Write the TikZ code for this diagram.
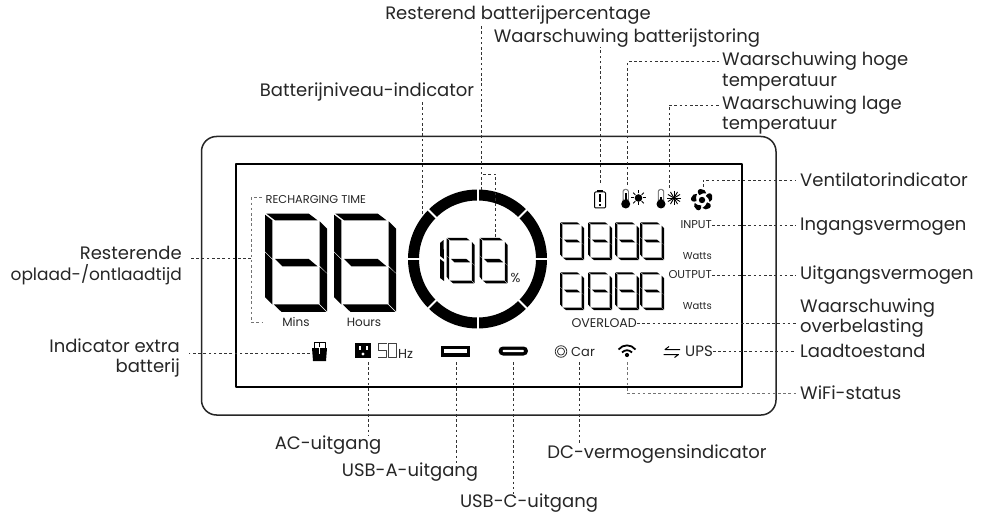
\documentclass[tikz,border=0pt]{standalone}
\usepackage{fontspec}
\setmainfont{Poppins}
\providecommand{\lcdInkColor}{black}
\providecommand{\lcdTextColor}{black!85}
\providecommand{\lcdLeaderColor}{black!80}
\providecommand{\lcdBracketColor}{black!55}
% one seven segment digit: x, y, width, height, stroke thickness (drawing units 184 x 297)
\newcommand{\lcdDigit}[5]{%
  \begin{scope}[shift={(#1,#2)}, x=#3pt/184, y=-#4pt/297]
    \fill[\lcdInkColor] (4,2) -- (130,2) -- (134+#5,#5) -- (8+#5,#5) -- cycle;
    \fill[\lcdInkColor] (0,5) -- (#5,#5) -- (#5,115+#5) -- (0,115) -- cycle;
    \fill[\lcdInkColor] (184-#5,47-#5) -- (184,47) -- (184,180) -- (184-#5,180-#5) -- cycle;
    \fill[\lcdInkColor] (30,138) -- (130,138) -- (156,160) -- (52,160) -- cycle;
    \fill[\lcdInkColor] (0,118) -- (#5,118+#5) -- (#5,275) -- (0,252) -- cycle;
    \fill[\lcdInkColor] (184-#5,184-#5) -- (184,182) -- (184,295) -- (184-#5,295-#5) -- cycle;
    \fill[\lcdInkColor] (4+#5,296-#5) -- (181-#5,296-#5) -- (182,297) -- (27+#5,297) -- cycle;
  \end{scope}}
\tikzset{
  leader/.style={draw=\lcdLeaderColor, line width=0.8pt, dash pattern=on 2.6pt off 2.6pt},
  bracket/.style={draw=\lcdBracketColor, line width=1pt, dash pattern=on 2.6pt off 2.6pt},
  callout/.style={inner sep=0pt, text=\lcdTextColor, font=\fontsize{18}{20.5}\selectfont},
  lcdtext/.style={inner sep=0pt, text=\lcdTextColor, font=\fontsize{11.4}{13}\selectfont},
  lcdtextbig/.style={inner sep=0pt, text=\lcdTextColor, font=\fontsize{13}{15}\selectfont},
}
\begin{document}
\begin{tikzpicture}
\begin{scope}[x=1pt, y=-1pt, line join=round]
  \useasboundingbox[fill=white] (0,0) rectangle (982,513);
  % Housing and screen
  \draw[line width=1.5pt, draw=black!85, rounded corners=15pt] (201.5,136.5) rectangle (776,415);
  \draw[line width=2pt, draw=\lcdInkColor] (236,164) rectangle (742,387);
  % Time digits
  \lcdDigit{265}{213}{62}{99}{22}
  \lcdDigit{334}{213}{62}{99}{22}
  % Battery ring
  \coordinate (ringCentre) at (477.5,259);
  \draw[line width=11pt, draw=\lcdInkColor] (ringCentre) circle (64pt);
  \foreach \a in {0,45,...,315}
    \draw[line width=2pt, draw=white] (ringCentre) ++(\a:57) -- ++(\a:14);
  % Percentage digits
  \fill[\lcdInkColor] (440,243) -- (443.5,240) -- (444,259) -- (440,256) -- cycle;
  \fill[\lcdInkColor] (440,259) -- (444,262) -- (444,281) -- (440,278) -- cycle;
  \lcdDigit{446.5}{237.5}{28}{46}{18}
  \lcdDigit{479.5}{237.5}{28}{46}{18}
  % Power digits
  \lcdDigit{560}{222}{24}{38}{18}
  \lcdDigit{588}{222}{24}{38}{18}
  \lcdDigit{615}{222}{24}{38}{18}
  \lcdDigit{640}{222}{24}{38}{18}
  \lcdDigit{560}{272}{24}{38}{18}
  \lcdDigit{588}{272}{24}{38}{18}
  \lcdDigit{615}{272}{24}{38}{18}
  \lcdDigit{640}{272}{24}{38}{18}
  % Battery warning icon
  \draw[line width=1pt, rounded corners=1pt] (594.5,192) rectangle (605.5,208);
  \fill[\lcdInkColor] (597,190) rectangle (603,192);
  \fill[\lcdInkColor] (598.6,194.5) rectangle (601.4,202.5);
  \fill[\lcdInkColor] (598.6,204) rectangle (601.4,206.2);
  % Thermometer with sun
  \fill[black!55, rounded corners=2.5pt] (622.5,203) rectangle (628.9,189);
  \fill[white, rounded corners=1.5pt] (623.5,200) rectangle (627.9,190);
  \fill[\lcdInkColor] (625.7,204) circle (4.5pt);
  \fill[\lcdInkColor] (624.6,193) rectangle (626.8,202);
  \fill[\lcdInkColor] (638.5,198) circle (3.8pt);
  \foreach \a in {0,45,...,315}
    \draw[line width=1pt] (638.5,198) ++(\a:4.5) -- ++(\a:3);
  % Thermometer with snow
  \fill[black!55, rounded corners=2.5pt] (657.8,203) rectangle (664.2,189);
  \fill[white, rounded corners=1.5pt] (658.8,200) rectangle (663.2,190);
  \fill[\lcdInkColor] (661,204) circle (4.5pt);
  \fill[\lcdInkColor] (660,197) rectangle (662,202);
  \foreach \a in {0,30,...,150}
    \draw[line width=0.9pt] (674,198) ++(\a:-7) -- ++(\a:14);
  % Fan icon
  \fill[\lcdInkColor] (702,200) circle (3.2pt);
  \foreach \a in {20,92,...,308}
    \fill[\lcdInkColor, shift={(702,200)}, rotate=\a] (5,-2.5) .. controls (8,-5) and (11,-4) .. (11,-1) .. controls (11,2) and (9,4.5) .. (6.5,4.5) .. controls (7.5,2) and (6,0) .. (5,-2.5) -- cycle;
  % Extra battery icon
  \draw[line width=1pt] (314,350) -- (314,342) -- (325,342) -- (325,350);
  \fill[\lcdInkColor] (312,348) -- (327,348) -- (326,361) -- (313,361) -- cycle;
  \draw[line width=1pt, draw=white] (319.7,347) -- (319.7,354);
  \draw[line width=1pt] (319.7,342) -- (319.7,347);
  % Socket icon
  \fill[\lcdInkColor] (355,343) rectangle (371,358);
  \fill[white] (358.5,346) rectangle (360.5,350);
  \fill[white] (365.5,346) rectangle (367.5,350);
  \fill[white] (363,354) circle (1.7pt);
  % Frequency digits
  \draw[line width=1pt, draw=black!75] (387,343.5) -- (378,343.5) -- (378,350) -- (386.5,350) -- (386.5,357.5) -- (377.5,357.5);
  \draw[line width=1pt, draw=black!75] (388.5,343.5) rectangle (396.5,357.5);
  \node[lcdtext, anchor=base west, font=\fontsize{13}{15}\selectfont] (lblHz) at (398,358) {Hz};
  % USB icons
  \fill[\lcdInkColor] (441,345.5) rectangle (469.5,356.5);
  \fill[white] (444,349) rectangle (466.5,352.5);
  \fill[\lcdInkColor, rounded corners=4.4pt] (498.5,346.5) rectangle (528,355.5);
  \fill[white, rounded corners=1pt] (502.5,349.8) rectangle (524,352.2);
  % Car icon
  \draw[line width=0.8pt, draw=black!80] (561,351.5) circle (5.8pt);
  \draw[line width=0.8pt, draw=black!80] (561,351.5) circle (3.6pt);
  % WiFi icon
  \fill[\lcdInkColor] (627,355) circle (2.1pt);
  \draw[line width=1.8pt] (622,352.5) .. controls (625,349.5) and (629,349.5) .. (632,352.5);
  \draw[line width=1.8pt] (618.5,349.5) .. controls (623,344) and (631,344) .. (635.5,349.5);
  % UPS arrows
  \draw[line width=1pt] (680,349.5) -- (665,349.5) -- (669,346.5);
  \draw[line width=1pt] (663.5,354.5) -- (678.5,354.5) -- (674.5,357.5);
  % Screen labels
  \node[lcdtext, anchor=west] (lblRecharge) at (265.5,200) {RECHARGING TIME};
  \node[lcdtext, font=\fontsize{12}{14}\selectfont] (lblMins) at (296,322) {Mins};
  \node[lcdtext, font=\fontsize{12}{14}\selectfont] (lblHours) at (364,322) {Hours};
  \node[lcdtext, font=\fontsize{13}{15}\selectfont] (lblPercent) at (515.5,278) {\%};
  \node[lcdtext, anchor=east] (lblInput) at (712,225) {INPUT};
  \node[lcdtext, anchor=east, font=\fontsize{10}{12}\selectfont] (lblWattsIn) at (712,256) {Watts};
  \node[lcdtext, anchor=east] (lblOutput) at (712,275) {OUTPUT};
  \node[lcdtext, anchor=east, font=\fontsize{10}{12}\selectfont] (lblWattsOut) at (712,306) {Watts};
  \node[lcdtextbig, anchor=east, font=\fontsize{12.6}{14}\selectfont] (lblOverload) at (637,323) {OVERLOAD};
  \node[lcdtextbig, anchor=west] (lblCar) at (571,352) {Car};
  \node[lcdtextbig, anchor=east, font=\fontsize{15}{17}\selectfont] (lblUps) at (713,351) {UPS};
  % Callouts
  \node[callout, anchor=center] (txtPercent) at (518,15.5) {Resterend batterijpercentage};
  \node[callout, anchor=center] (txtFault) at (627,38) {Waarschuwing batterijstoring};
  \node[callout, anchor=center] (txtLevel) at (367,92) {Batterijniveau-indicator};
  \node[callout, anchor=west, align=left] (txtHot) at (722,71.5) {Waarschuwing hoge\\temperatuur};
  \node[callout, anchor=west, align=left] (txtCold) at (722,115) {Waarschuwing lage\\temperatuur};
  \node[callout, anchor=west] (txtFan) at (800,180) {Ventilatorindicator};
  \node[callout, anchor=west] (txtInput) at (800,227) {Ingangsvermogen};
  \node[callout, anchor=west] (txtOutput) at (800,275) {Uitgangsvermogen};
  \node[callout, anchor=west, align=left] (txtOverload) at (800,318) {Waarschuwing\\overbelasting};
  \node[callout, anchor=west] (txtMode) at (800,351) {Laadtoestand};
  \node[callout, anchor=west] (txtWifi) at (800,393) {WiFi-status};
  \node[callout, anchor=east, align=right] (txtTime) at (182,265.5) {Resterende\\\fontsize{17}{20.5}\selectfont oplaad-/ontlaadtijd};
  \node[callout, anchor=east, align=right] (txtExtra) at (180,358) {Indicator extra\\batterij};
  \node[callout] (txtAc) at (328,445) {AC-uitgang};
  \node[callout] (txtUsbA) at (410,472) {USB-A-uitgang};
  \node[callout] (txtUsbC) at (529,503) {USB-C-uitgang};
  \node[callout] (txtDc) at (657,454) {DC-vermogensindicator};
  % Leader ends on the screen
  \coordinate (endRing) at (481,190);
  \coordinate (endPercent) at (495.5,237);
  \coordinate (endLevel) at (422.3,214);
  \coordinate (endFault) at (600,183);
  \coordinate (endHot) at (627.7,185);
  \coordinate (endCold) at (669,188);
  \coordinate (endFan) at (703,187);
  \coordinate (endWifi) at (627,362);
  \coordinate (endAc) at (368,362);
  \coordinate (endUsbA) at (456,362);
  \coordinate (endUsbC) at (513,362);
  \coordinate (endDc) at (579,362);
  \coordinate (endExtra) at (310,353);
  \coordinate (endTimeTop) at (262,198);
  \coordinate (endTimeLow) at (262,322);
  \coordinate (timeJoin) at (251,258.3);
  % Leaders
  \draw[leader] (endRing) -- (endRing |- txtPercent.south);
  \draw[leader] (endPercent) |- (481,174);
  \draw[leader] (endLevel) -- (endLevel |- txtLevel.south);
  \draw[leader] (endFault) -- (endFault |- txtFault.south);
  \draw[leader] (endHot) |- ([xshift=-3pt,yshift=10pt]txtHot.west);
  \draw[leader] (endCold) |- ([xshift=-3pt,yshift=10pt]txtCold.west);
  \draw[leader] (endFan) |- ([xshift=-4pt]txtFan.west);
  \draw[leader] (lblInput.east) -- ([xshift=-4pt]txtInput.west |- lblInput.east);
  \draw[leader] (lblOutput.east) -- ([xshift=-4pt]txtOutput.west |- lblOutput.east);
  \draw[leader] (lblOverload.east) -- ([xshift=-4pt]txtOverload.west |- lblOverload.east);
  \draw[leader] (lblUps.east) -- ([xshift=-4pt]txtMode.west |- lblUps.east);
  \draw[bracket] (endWifi) |- ([xshift=-4pt]txtWifi.west);
  \draw[leader] (endAc) -- (endAc |- txtAc.north);
  \draw[leader] (endUsbA) -- (endUsbA |- txtUsbA.north);
  \draw[leader] (endUsbC) -- (endUsbC |- txtUsbC.north);
  \draw[leader] (endDc) -- (endDc |- txtDc.north);
  \draw[leader] (endExtra) -- (189,353);
  \draw[leader] (timeJoin) -- (189,258.3);
  \draw[bracket] (endTimeTop) -| (endTimeLow -| timeJoin) -- (endTimeLow);
\end{scope}
\end{tikzpicture}
\end{document}
